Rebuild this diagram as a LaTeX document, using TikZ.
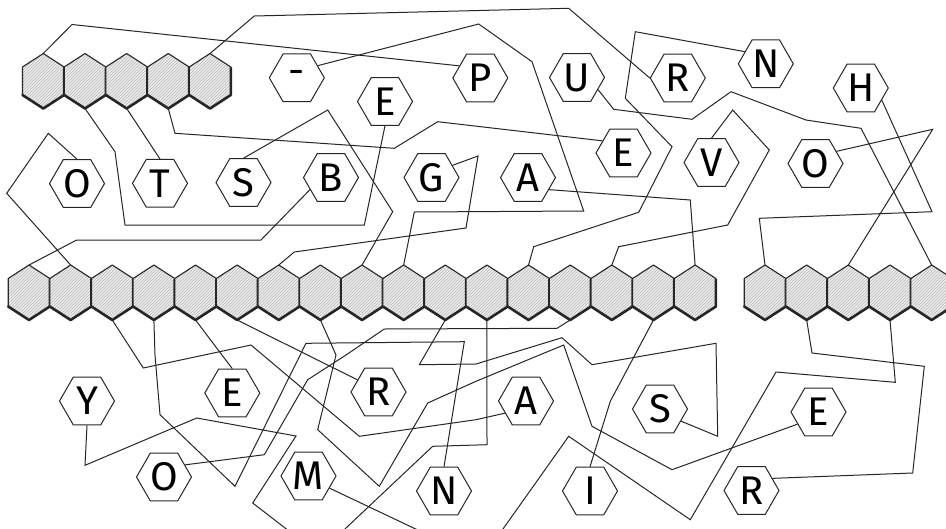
\documentclass[tikz,border=0pt]{standalone}
\usepackage{fontspec}
\newfontfamily\lfont{Fira Sans}
\usetikzlibrary{shapes.geometric,patterns}
\begin{document}
\begin{tikzpicture}[x=1pt,y=-1pt,
 lh/.style={regular polygon, regular polygon sides=6, minimum size=55pt, inner sep=0pt,
   draw=black!85, line width=1pt, fill=white, font=\lfont\fontsize{40}{40}\selectfont},
 wire/.style={draw=black!85, line width=1pt, line join=miter},
 shex/.pic={
   \path[fill=gray!12] (0,-27.5)--(20.8,-14)--(20.8,14)--(0,27.5)--(-20.8,14)--(-20.8,-14)--cycle;
   \path[pattern=north east lines, pattern color=gray!60] (0,-27.5)--(20.8,-14)--(20.8,14)--(0,27.5)--(-20.8,14)--(-20.8,-14)--cycle;
   \draw[line width=2.6pt, black!85, line cap=round, line join=round] (20.8,-13)--(20.8,14)--(0,27.5)--(-20.8,14);
   \draw[line width=1.1pt, black!85, line join=round] (0,-27.5)--(20.8,-14)--(20.8,14)--(0,27.5)--(-20.8,14)--(-20.8,-14)--cycle;
   \coordinate (-t) at (0,-27.5);
   \coordinate (-b) at (0,27.5);
 }]
\useasboundingbox (0,0) rectangle (946,528);
\clip (0,0) rectangle (946,528);
\fill[white] (0,0) rectangle (946,528);

% shaded hexagons
\foreach \i/\x in {1/43.3,2/85,3/126.7,4/168.3,5/210} \pic (T\i) at (\x,81) {shex};
\foreach \i in {1,...,17} \pic (M\i) at ({29+41.63*(\i-1)},292.5) {shex};
\foreach \i/\x in {18/765,19/806.67,20/848.33,21/890,22/931.67} \pic (M\i) at (\x,292.5) {shex};

% letter hexagons
\node[lh] (nDash) at (296.8,77.8) {-};
\node[lh] (nE1) at (385,101.5) {E};
\node[lh] (nP) at (480.3,78) {P};
\node[lh] (nU) at (577,77.5) {U};
\node[lh] (nR1) at (677.8,78) {R};
\node[lh] (nN1) at (765.8,63.8) {N};
\node[lh] (nH) at (860.8,88) {H};
\node[lh] (nO3) at (815.5,163.5) {O};
\node[lh] (nE2) at (623.5,153) {E};
\node[lh] (nV) at (711.5,162.5) {V};
\node[lh] (nA1) at (528,177.5) {A};
\node[lh] (nG) at (431.5,177.5) {G};
\node[lh] (nB) at (331,177.5) {B};
\node[lh] (nS1) at (243.5,182.5) {S};
\node[lh] (nT) at (160,183.3) {T};
\node[lh] (nO1) at (77,183.5) {O};
\node[lh] (nY) at (87,401) {Y};
\node[lh] (nE3) at (232.3,393) {E};
\node[lh] (nO2) at (164,477) {O};
\node[lh] (nM) at (308.5,476) {M};
\node[lh] (nR2) at (378.5,392) {R};
\node[lh] (nN2) at (444,491) {N};
\node[lh] (nA2) at (526,401) {A};
\node[lh] (nS2) at (660,409) {S};
\node[lh] (nI) at (590,491) {I};
\node[lh] (nE4) at (818.5,412) {E};
\node[lh] (nR3) at (751.5,490.5) {R};

% connectors
\draw[wire] (nP.150) -- (72,24.5) -- (T1-t);
\draw[wire] (nE1.270) -- (364.3,225) -- (125,225) -- (115,151.7) -- (T2-b);
\draw[wire] (nT.90) -- (T3-b);
\draw[wire] (nE2.150) -- (437.7,121.7) -- (394.3,148.3) -- (175,133.3) -- (T4-b);
\draw[wire] (nR1.180) -- (568.7,8.3) -- (254.3,16) -- (T5-t);
\draw[wire] (nB.210) -- (261,240) -- (76.7,240) -- (M1-t);
\draw[wire] (nO1.90) -- (48.3,133.3) -- (6.7,193.3) -- (M2-t);
\draw[wire] (M3-b) -- (143.3,368) -- (251,345) -- (359.3,436.3) -- (476,419.7) -- (nA2.210);
\draw[wire] (M4-b) -- (155,355) -- (160,414.7) -- (235,486.3) -- (306,343.3) -- (464.3,341.7) -- (nN2.90);
\draw[wire] (M5-b) -- (nE3.90);
\draw[wire] (M6-b) -- (nR2.150);
\draw[wire] (M7-t) -- (294.3,252) -- (466,228) -- (478,156) -- (nG.30);
\draw[wire] (M8-b) -- (336,355) -- (317.7,429.7) -- (379.3,486.3) -- (427.7,403) -- (476,381.3) -- (563.7,345) -- (592,426.3) -- (672,469.7) -- (nE4.210);
\draw[wire] (M9-t) -- (392.7,211.7) -- (327.7,110) -- (nS1.90);
\draw[wire] (M10-t) -- (414.3,212) -- (583.7,211) -- (532,61.7) -- (478.7,24) -- (nDash.30);
\draw[wire] (M11-b) -- (419.3,364.7) -- (476,364) -- (562,337.7) -- (592,364.7) -- (716,343.3) -- (717.7,436.3) -- (nS2.330);
\draw[wire] (M12-b) -- (487,444.7) -- (432.7,446.3) -- (346,528) -- (320,555) -- (252.7,503) -- (296,436) -- (196.7,418) -- (85,465.3) -- (nY.270);
\draw[wire] (M13-t) -- (533.7,246.7) -- (638.7,212.3) -- (672,146.7) -- (625.3,98.3) -- (635.3,31.7) -- (nN1.150);
\draw[wire] (M14-b) -- (557,328.3) -- (384.3,329) -- (346,355) -- (307.7,379.7) -- (264.3,454.7) -- (nO2.30);
\draw[wire] (M15-t) -- (618.7,246.7) -- (727.7,225) -- (769.3,150) -- (732.7,110) -- (nV.90);
\draw[wire] (M16-b) -- (610.3,401.3) -- (nI.90);
\draw[wire] (M17-t) -- (690.3,200) -- (nA1.330);
\draw[wire] (M18-t) -- (759.3,218.3) -- (932,211.7) -- (nH.330);
\draw[wire] (M19-b) -- (812,353) -- (924.3,366.3) -- (912.7,473) -- (nR3.30);
\draw[wire] (M20-t) -- (932.7,129.3) -- (nO3.30);
\draw[wire] (M21-b) -- (895.3,382.3) -- (776,372) -- (690.3,519.7) -- (568.7,436.3) -- (481,560) -- (nM.330);
\draw[wire] (M22-t) -- (861,128.3) -- (806,120) -- (731,91.7) -- (692,119.3) -- (613.7,109.3) -- (nU.330);
\end{tikzpicture}
\end{document}
